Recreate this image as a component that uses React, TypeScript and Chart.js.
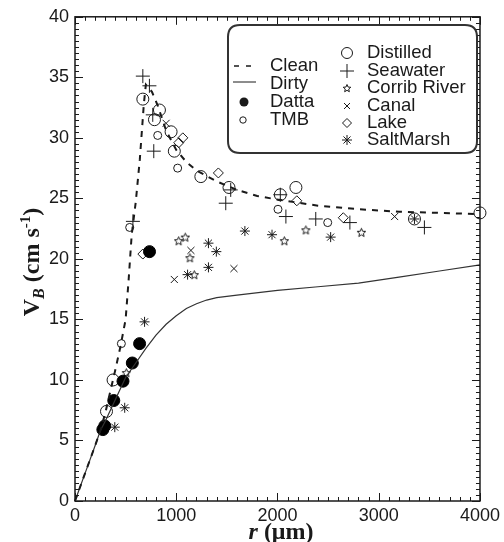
import React, { useEffect, useRef } from "react";
import { Chart, registerables } from "chart.js";

Chart.register(...registerables);

// ---- data ----
const cleanR = [0, 100, 200, 250, 300, 350, 400, 450, 500, 530, 560, 600, 640, 680, 700, 760, 820, 900, 1000, 1100, 1200, 1400, 1600, 1800, 2000, 2400, 2800, 3200, 3600, 4000];
const cleanV = [0, 2.3, 4.6, 5.8, 7.3, 9.1, 10.9, 12.8, 15.0, 18.3, 22.0, 24.7, 28.2, 32.8, 34.4, 33.8, 32.6, 30.6, 29.0, 28.0, 27.3, 26.4, 25.7, 25.2, 24.9, 24.4, 24.1, 23.9, 23.8, 23.7];

const dirtyR = [0, 100, 200, 250, 300, 400, 500, 600, 700, 800, 900, 1000, 1100, 1200, 1300, 1400, 1600, 2000, 2400, 2800, 3200, 3600, 4000];
const dirtyV = [0, 2.3, 4.6, 5.8, 6.6, 8.4, 10.2, 11.4, 12.6, 13.7, 14.6, 15.3, 15.9, 16.3, 16.6, 16.8, 17.0, 17.4, 17.7, 18.0, 18.5, 19.0, 19.5];

const dattaR = [275, 294, 383, 474, 566, 638, 736];
const dattaV = [5.9, 6.2, 8.3, 9.9, 11.4, 13.0, 20.6];

const tmbR = [458, 540, 817, 1014, 2005, 2496];
const tmbV = [13.0, 22.6, 30.2, 27.5, 24.1, 23.0];

const distilledR = [311, 376, 670, 785, 834, 949, 981, 1243, 1521, 2028, 2182, 3353, 4000];
const distilledV = [7.4, 10.0, 33.2, 31.5, 32.3, 30.5, 28.9, 26.8, 25.9, 25.3, 25.9, 23.3, 23.8];

const seawaterR = [670, 735, 768, 778, 572, 1538, 1489, 2028, 2083, 2378, 2715, 3451];
const seawaterV = [35.1, 34.3, 31.9, 28.9, 23.1, 25.7, 24.6, 25.3, 23.5, 23.3, 23.0, 22.6];

const corribR = [507, 1024, 1089, 1135, 1178, 2068, 2280, 2829];
const corribV = [10.6, 21.5, 21.8, 20.1, 18.7, 21.5, 22.4, 22.2];

const canalR = [900, 1145, 981, 1570, 3157];
const canalV = [31.2, 20.7, 18.3, 19.2, 23.5];

const lakeR = [670, 1025, 1065, 1416, 2191, 2650];
const lakeV = [20.4, 29.6, 30.0, 27.1, 24.8, 23.4];

const saltR = [393, 491, 687, 1112, 1318, 1318, 1396, 1678, 1946, 2525, 3353];
const saltV = [6.1, 7.7, 14.8, 18.7, 21.3, 19.3, 20.6, 22.3, 22.0, 21.8, 23.3];

const xTicks = [0, 1000, 2000, 3000, 4000];
const yTicks = [0, 5, 10, 15, 20, 25, 30, 35, 40];

const legendLeft = ["Clean", "Dirty", "Datta", "TMB"];
const legendRight = ["Distilled", "Seawater", "Corrib River", "Canal", "Lake", "SaltMarsh"];

const INK = "#1a1a1a";

function pts(r: number[], v: number[]) {
  return r.map((x, i) => ({ x, y: v[i] }));
}

function makeStar(size: number): HTMLCanvasElement {
  const c = document.createElement("canvas");
  c.width = size;
  c.height = size;
  const g = c.getContext("2d")!;
  const cx = size / 2, cy = size / 2 + 0.5;
  const ro = size / 2 - 1, ri = ro * 0.45;
  g.beginPath();
  for (let i = 0; i < 10; i++) {
    const a = -Math.PI / 2 + (i * Math.PI) / 5;
    const rr = i % 2 === 0 ? ro : ri;
    const px = cx + rr * Math.cos(a), py = cy + rr * Math.sin(a);
    if (i === 0) g.moveTo(px, py); else g.lineTo(px, py);
  }
  g.closePath();
  g.strokeStyle = INK;
  g.lineWidth = 1;
  g.stroke();
  return c;
}

function drawSym(ctx: CanvasRenderingContext2D, kind: string, x: number, y: number, r: number, star?: HTMLCanvasElement) {
  ctx.save();
  ctx.strokeStyle = INK;
  ctx.fillStyle = INK;
  ctx.lineWidth = 1;
  ctx.beginPath();
  if (kind === "circle") {
    ctx.arc(x, y, r, 0, Math.PI * 2);
    ctx.stroke();
  } else if (kind === "filled") {
    ctx.arc(x, y, r, 0, Math.PI * 2);
    ctx.fill();
  } else if (kind === "cross") {
    ctx.moveTo(x - r, y); ctx.lineTo(x + r, y);
    ctx.moveTo(x, y - r); ctx.lineTo(x, y + r);
    ctx.stroke();
  } else if (kind === "x") {
    const d = r * 0.75;
    ctx.moveTo(x - d, y - d); ctx.lineTo(x + d, y + d);
    ctx.moveTo(x + d, y - d); ctx.lineTo(x - d, y + d);
    ctx.stroke();
  } else if (kind === "diamond") {
    ctx.moveTo(x, y - r); ctx.lineTo(x + r, y); ctx.lineTo(x, y + r); ctx.lineTo(x - r, y); ctx.closePath();
    ctx.stroke();
  } else if (kind === "asterisk") {
    for (let i = 0; i < 4; i++) {
      const a = (i * Math.PI) / 4;
      ctx.moveTo(x - r * Math.cos(a), y - r * Math.sin(a));
      ctx.lineTo(x + r * Math.cos(a), y + r * Math.sin(a));
    }
    ctx.stroke();
  } else if (kind === "star" && star) {
    ctx.drawImage(star, x - star.width / 2, y - star.height / 2);
  }
  ctx.restore();
}

export default function App() {
  const ref = useRef<HTMLCanvasElement | null>(null);

  useEffect(() => {
    const canvas = ref.current;
    if (!canvas) return;
    const star = makeStar(11);
    const starLegend = makeStar(10);

    const decor = {
      id: "decor",
      afterDatasetsDraw(chart: any) {
        const ctx: CanvasRenderingContext2D = chart.ctx;
        const { left, right, top, bottom } = chart.chartArea;
        const xs = chart.scales.x, ys = chart.scales.y;
        ctx.save();
        // frame
        ctx.strokeStyle = INK;
        ctx.lineWidth = 1.5;
        ctx.strokeRect(left, top, right - left, bottom - top);
        // ticks
        ctx.lineWidth = 1;
        ctx.beginPath();
        for (let k = 0; k <= 80; k++) {
          const v = k * 0.5;
          const py = Math.round(ys.getPixelForValue(v)) + 0.5;
          const len = k % 10 === 0 ? 8 : 4;
          ctx.moveTo(left, py); ctx.lineTo(left + len, py);
          ctx.moveTo(right, py); ctx.lineTo(right - len, py);
        }
        for (let k = 0; k <= 40; k++) {
          const r = k * 100;
          const px = Math.round(xs.getPixelForValue(r)) + 0.5;
          const len = k % 10 === 0 ? 8 : 4;
          ctx.moveTo(px, bottom); ctx.lineTo(px, bottom - len);
          ctx.moveTo(px, top); ctx.lineTo(px, top + len);
        }
        ctx.stroke();

        // legend box
        const bx = 228, by = 25, bw = 249, bh = 128, rad = 12;
        ctx.beginPath();
        ctx.moveTo(bx + rad, by);
        ctx.lineTo(bx + bw - rad, by);
        ctx.quadraticCurveTo(bx + bw, by, bx + bw, by + rad);
        ctx.lineTo(bx + bw, by + bh - rad);
        ctx.quadraticCurveTo(bx + bw, by + bh, bx + bw - rad, by + bh);
        ctx.lineTo(bx + rad, by + bh);
        ctx.quadraticCurveTo(bx, by + bh, bx, by + bh - rad);
        ctx.lineTo(bx, by + rad);
        ctx.quadraticCurveTo(bx, by, bx + rad, by);
        ctx.closePath();
        ctx.fillStyle = "#ffffff";
        ctx.fill();
        ctx.strokeStyle = "#333";
        ctx.lineWidth = 2;
        ctx.stroke();

        ctx.font = '18.5px "Liberation Sans", Arial, sans-serif';
        ctx.fillStyle = INK;
        ctx.textBaseline = "middle";
        ctx.textAlign = "left";
        const lyL = [66, 84, 102, 120];
        legendLeft.forEach((t, i) => ctx.fillText(t, 270, lyL[i]));
        // left symbols
        ctx.strokeStyle = INK;
        ctx.lineWidth = 1.5;
        ctx.beginPath();
        ctx.moveTo(234, lyL[0]); ctx.lineTo(239, lyL[0]);
        ctx.moveTo(246, lyL[0]); ctx.lineTo(251, lyL[0]);
        ctx.stroke();
        ctx.lineWidth = 1;
        ctx.beginPath();
        ctx.moveTo(233, lyL[1] - 2); ctx.lineTo(256, lyL[1] - 2);
        ctx.stroke();
        drawSym(ctx, "filled", 244, lyL[2], 4.5);
        drawSym(ctx, "circle", 243, lyL[3], 3.2);

        const lyR = [53, 71, 88, 106, 123, 140];
        legendRight.forEach((t, i) => ctx.fillText(t, 367, lyR[i]));
        drawSym(ctx, "circle", 347, lyR[0], 5.5);
        drawSym(ctx, "cross", 347, lyR[1], 7);
        drawSym(ctx, "star", 347, lyR[2], 4, starLegend);
        drawSym(ctx, "x", 347, lyR[3], 4);
        drawSym(ctx, "diamond", 347, lyR[4], 4.5);
        drawSym(ctx, "asterisk", 347, lyR[5], 5);

        ctx.restore();
      },
      afterDraw(chart: any) {
        const ctx: CanvasRenderingContext2D = chart.ctx;
        ctx.save();
        ctx.fillStyle = INK;
        ctx.textBaseline = "alphabetic";
        // x title: r (μm)
        const fs = 24;
        const f1 = `italic bold ${fs}px "Liberation Serif", "Times New Roman", serif`;
        const f2 = `bold ${fs}px "Liberation Serif", "Times New Roman", serif`;
        ctx.font = f1;
        const w1 = ctx.measureText("r").width;
        ctx.font = f2;
        const w2 = ctx.measureText(" (μm)").width;
        const cx = 281, baseY = 539;
        let x0 = cx - (w1 + w2) / 2;
        ctx.font = f1; ctx.fillText("r", x0, baseY);
        ctx.font = f2; ctx.fillText(" (μm)", x0 + w1, baseY);

        // y title: V_B (cm s^-1)
        const yfs = 24;
        const parts: [string, string, number][] = [
          ["V", `bold ${yfs}px "Liberation Serif", serif`, 0],
          ["B", `italic bold ${Math.round(yfs * 0.68)}px "Liberation Serif", serif`, 5],
          [" (cm s", `bold ${yfs}px "Liberation Serif", serif`, 0],
          ["-1", `bold ${Math.round(yfs * 0.62)}px "Liberation Serif", serif`, -9],
          [")", `bold ${yfs}px "Liberation Serif", serif`, 0],
        ];
        let total = 0;
        const widths = parts.map(([t, f]) => { ctx.font = f; const w = ctx.measureText(t).width; total += w; return w; });
        ctx.translate(39, 262);
        ctx.rotate(-Math.PI / 2);
        let px = -total / 2;
        parts.forEach(([t, f, dy], i) => {
          ctx.font = f;
          ctx.fillText(t, px, dy);
          px += widths[i];
        });
        ctx.restore();
      },
    };

    const chart = new Chart(canvas, {
      type: "scatter",
      data: {
        datasets: [
          { label: "Clean", data: pts(cleanR, cleanV), showLine: true, borderColor: INK, borderWidth: 2, borderDash: [6, 6], pointRadius: 0, fill: false, tension: 0 } as any,
          { label: "Dirty", data: pts(dirtyR, dirtyV), showLine: true, borderColor: "#333", borderWidth: 1.2, pointRadius: 0, fill: false, tension: 0 } as any,
          { label: "Datta", data: pts(dattaR, dattaV), pointStyle: "circle", pointRadius: 6, backgroundColor: "#000", borderColor: "#000", borderWidth: 1 },
          { label: "TMB", data: pts(tmbR, tmbV), pointStyle: "circle", pointRadius: 4, backgroundColor: "rgba(0,0,0,0)", borderColor: INK, borderWidth: 1 },
          { label: "Distilled", data: pts(distilledR, distilledV), pointStyle: "circle", pointRadius: 6, backgroundColor: "rgba(0,0,0,0)", borderColor: INK, borderWidth: 1 },
          { label: "Seawater", data: pts(seawaterR, seawaterV), pointStyle: "cross", pointRadius: 7, borderColor: INK, borderWidth: 1 },
          { label: "Corrib River", data: pts(corribR, corribV), pointStyle: star as any, pointRadius: 5, borderColor: INK, borderWidth: 1 },
          { label: "Canal", data: pts(canalR, canalV), pointStyle: "crossRot", pointRadius: 5, borderColor: INK, borderWidth: 1 },
          { label: "Lake", data: pts(lakeR, lakeV), pointStyle: "rectRot", pointRadius: 5, backgroundColor: "rgba(0,0,0,0)", borderColor: INK, borderWidth: 1 },
          { label: "SaltMarsh", data: pts(saltR, saltV), pointStyle: "star", pointRadius: 5, borderColor: INK, borderWidth: 1 },
        ].map((d: any) => ({ ...d, clip: false })),
      },
      options: {
        animation: false,
        responsive: false,
        devicePixelRatio: 1,
        layout: { padding: { top: 14, right: 21, left: 0, bottom: 0 } },
        plugins: { legend: { display: false }, tooltip: { enabled: false } },
        scales: {
          x: {
            type: "linear",
            min: 0,
            max: 4000,
            afterBuildTicks: (s: any) => { s.ticks = xTicks.map((v) => ({ value: v })); },
            afterFit: (s: any) => { s.height = 41; },
            grid: { display: false, drawTicks: false },
            border: { display: false },
            ticks: { color: INK, padding: 4, maxRotation: 0, callback: (v: any) => String(v), font: { family: '"Liberation Sans", Arial, sans-serif', size: 18 } },
          },
          y: {
            type: "linear",
            min: 0,
            max: 40,
            afterBuildTicks: (s: any) => { s.ticks = yTicks.map((v) => ({ value: v })); },
            afterFit: (s: any) => { s.width = 75; },
            grid: { display: false, drawTicks: false },
            border: { display: false },
            ticks: { color: INK, padding: 6, callback: (v: any) => String(v), font: { family: '"Liberation Sans", Arial, sans-serif', size: 18 } },
          },
        },
      },
      plugins: [decor],
    });
    return () => chart.destroy();
  }, []);

  return (
    <div style={{ position: "fixed", left: 0, top: 0, width: 504, height: 542, background: "#fff" }}>
      <canvas ref={ref} width={504} height={542} style={{ display: "block" }} />
    </div>
  );
}
